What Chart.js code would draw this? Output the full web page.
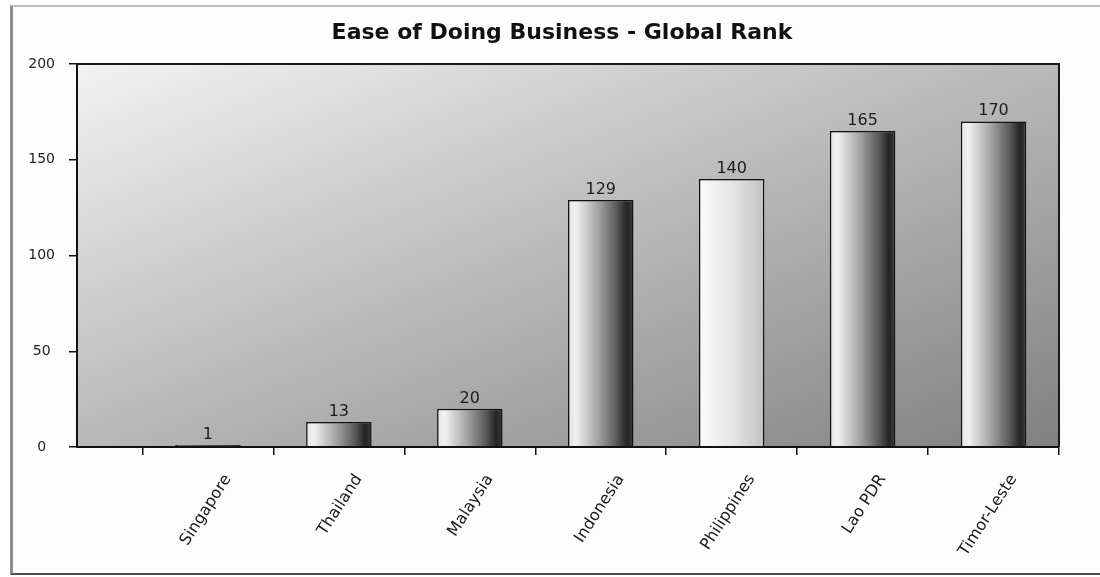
<!DOCTYPE html>
<html>
<head>
<meta charset="utf-8">
<title>Ease of Doing Business - Global Rank</title>
<script src="https://cdn.jsdelivr.net/npm/chart.js@4.4.1/dist/chart.umd.min.js"></script>
<style>
  html, body { margin: 0; padding: 0; background: #fff; overflow: hidden; }
  /* moldura do gráfico: a borda direita fica fora da janela */
  #quadro {
    position: absolute; left: 10px; top: 5px;
    width: 1098px; height: 566px;
    border-left: 3px solid #8c8c8c;
    border-top: 2px solid #bcbcbc;
    border-bottom: 2px solid #4d4d4d;
    background: #fdfdfd;
  }
  #grafico { display: block; }
</style>
</head>
<body>
<div id="quadro"><canvas id="grafico" width="1098" height="566"></canvas></div>
<script>
const countries = ['Singapore', 'Thailand', 'Malaysia', 'Indonesia', 'Philippines', 'Lao PDR', 'Timor-Leste'];
const ranks = [1, 13, 20, 129, 140, 165, 170];
const rankTicks = [0, 50, 100, 150, 200];

const FONT = "'DejaVu Sans', sans-serif";
const BAR_PCT = 0.5;

// cilindro: claro à esquerda, escuro à direita; Philippines sai mais clara
const darkStops = [[0, '#e4e4e4'], [0.12, '#f0f0f0'], [0.45, '#a6a6a6'], [0.75, '#585858'], [0.9, '#242424'], [1, '#3a3a3a']];
const lightStops = [[0, '#fbfbfb'], [0.5, '#e6e6e6'], [1, '#c2c2c2']];
const lightBar = countries.indexOf('Philippines');

function barShade(c) {
  const sx = c.chart.scales.x;
  if (c.type !== 'data' || !sx) return '#999';
  const cx = sx.getPixelForValue(c.dataIndex);
  const half = (sx.getPixelForValue(1) - sx.getPixelForValue(0)) * BAR_PCT / 2;
  if (!isFinite(cx) || !isFinite(half) || half <= 0) return '#999';
  const g = c.chart.ctx.createLinearGradient(cx - half, 0, cx + half, 0);
  (c.dataIndex === lightBar ? lightStops : darkStops).forEach(([o, cor]) => g.addColorStop(o, cor));
  return g;
}

// fundo da área de plotagem em degradê diagonal + contorno de cima/direita
const plotBackdrop = {
  id: 'plotBackdrop',
  beforeDraw(chart) {
    const { ctx, chartArea: a } = chart;
    if (!a) return;
    const w = a.right - a.left, h = a.bottom - a.top;
    const k = 2 * w * h / (w * w + h * h);
    const g = ctx.createLinearGradient(a.left, a.top, a.left + h * k, a.top + w * k);
    g.addColorStop(0, '#f3f3f3');
    g.addColorStop(0.5, '#b8b8b8');
    g.addColorStop(1, '#808080');
    ctx.save();
    ctx.fillStyle = g;
    ctx.fillRect(a.left, a.top, w, h);
    ctx.restore();
  },
  afterDraw(chart) {
    const { ctx, chartArea: a } = chart;
    ctx.save();
    ctx.strokeStyle = '#1a1a1a';
    ctx.lineWidth = 2;
    ctx.beginPath();
    ctx.moveTo(a.left, a.top);
    ctx.lineTo(a.right, a.top);
    ctx.lineTo(a.right, a.bottom);
    ctx.stroke();
    ctx.restore();
  }
};

// valor escrito acima de cada barra
const valueLabels = {
  id: 'valueLabels',
  afterDatasetsDraw(chart) {
    const ctx = chart.ctx;
    ctx.save();
    ctx.font = '16px ' + FONT;
    ctx.fillStyle = '#1c1c1c';
    ctx.textAlign = 'center';
    ctx.textBaseline = 'alphabetic';
    chart.getDatasetMeta(0).data.forEach((bar, i) => ctx.fillText(String(ranks[i]), bar.x, bar.y - 6));
    ctx.restore();
  }
};

new Chart(document.getElementById('grafico'), {
  type: 'bar',
  data: {
    datasets: [{
      data: ranks.map((v, i) => ({ x: i, y: v })),
      backgroundColor: barShade,
      borderColor: '#111',
      borderWidth: 1.5,
      barPercentage: BAR_PCT,
      categoryPercentage: 1
    }]
  },
  plugins: [plotBackdrop, valueLabels],
  options: {
    responsive: false,
    animation: false,
    layout: { padding: 0 },
    plugins: {
      legend: { display: false },
      tooltip: { enabled: false },
      title: {
        display: true, text: 'Ease of Doing Business - Global Rank', color: '#111',
        font: { family: FONT, size: 22, weight: 'bold', lineHeight: 1.2 },
        padding: { top: 13, bottom: 17.6 }
      }
    },
    scales: {
      x: {
        type: 'linear', min: -1, max: 6.5, bounds: 'data', offset: false,
        afterBuildTicks: s => { s.ticks = countries.map((_, i) => ({ value: i })); },
        afterFit: s => { s.height = 126; },
        grid: { offset: true, drawOnChartArea: false, drawTicks: true, tickLength: 8, color: '#111', lineWidth: 1.5 },
        border: { display: true, color: '#111', width: 2, z: 1 },
        ticks: {
          autoSkip: false, minRotation: 57, maxRotation: 57, labelOffset: 20, padding: 16,
          color: '#1a1a1a', font: { family: FONT, size: 16 },
          callback: v => countries[v]
        }
      },
      y: {
        min: 0, max: 200,
        afterBuildTicks: s => { s.ticks = rankTicks.map(v => ({ value: v })); },
        afterFit: s => { s.width = 64; },
        grid: { drawOnChartArea: false, drawTicks: true, tickLength: 8, color: '#111', lineWidth: 1.5 },
        border: { display: true, color: '#111', width: 2 },
        ticks: { crossAlign: 'center', padding: 14, color: '#222', font: { family: FONT, size: 14 } }
      },
      // eixo vazio à direita: só reserva espaço, o título continua centrado na moldura
      folga: {
        position: 'right', display: true, min: 0, max: 200,
        afterFit: s => { s.width = 52; },
        grid: { display: false },
        border: { display: false },
        ticks: { display: false }
      }
    }
  }
});
</script>
</body>
</html>
